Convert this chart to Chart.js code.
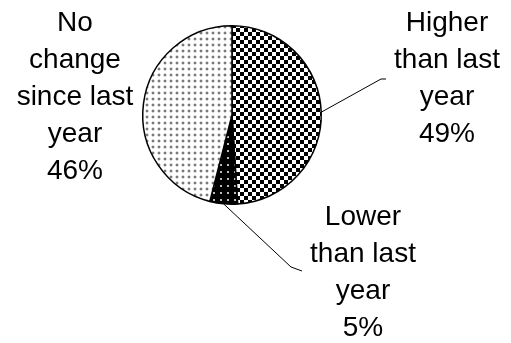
<!DOCTYPE html>
<html>
<head>
<meta charset="utf-8">
<script src="https://cdn.jsdelivr.net/npm/chart.js@4/dist/chart.umd.min.js"></script>
<style>
  html, body { margin: 0; padding: 0; background: #ffffff; }
  #wrap { width: 511px; height: 343px; }
</style>
</head>
<body>
<div id="wrap"><canvas id="c" width="511" height="343"></canvas></div>
<script>
// Survey answers, clockwise from 12 o'clock
const categories = ['Higher than last year', 'Lower than last year', 'No change since last year'];
const shares = [49, 5, 46];
const labelLines = [
  ['Higher', 'than last', 'year'],
  ['Lower', 'than last', 'year'],
  ['No', 'change', 'since last', 'year']
];

// Label block placement (text centre x, first baseline y) and leader-line end points
const labelLayout = [
  { x: 447, y: 31, leader: [[381, 79], [386, 79]] },
  { x: 363, y: 225, leader: [[291, 267], [302, 271]] },
  { x: 75, y: 31, leader: null }
];

function makeTile(size, draw) {
  const t = document.createElement('canvas');
  t.width = size; t.height = size;
  const g = t.getContext('2d');
  draw(g);
  return g.createPattern(t, 'repeat');
}

const ctx = document.getElementById('c').getContext('2d');

// Checkerboard fill
const checker = makeTile(8, g => {
  g.fillStyle = '#ffffff'; g.fillRect(0, 0, 8, 8);
  g.fillStyle = '#000000'; g.fillRect(0, 0, 4, 4); g.fillRect(4, 4, 4, 4);
});
// Light dots on black
const darkDots = makeTile(7, g => {
  g.fillStyle = '#000000'; g.fillRect(0, 0, 7, 7);
  g.fillStyle = '#bbbbbb'; g.fillRect(3, 3, 2, 2);
});
// Grey dots on white
const lightDots = makeTile(6, g => {
  g.fillStyle = '#ffffff'; g.fillRect(0, 0, 6, 6);
  g.fillStyle = '#7a7a7a'; g.fillRect(2, 2, 2, 2);
  g.fillStyle = '#d8d8d8'; g.fillRect(1, 2, 1, 2); g.fillRect(4, 2, 1, 2);
  g.fillRect(2, 1, 2, 1); g.fillRect(2, 4, 2, 1);
});

const FONT = '28px "Liberation Sans", Arial, sans-serif';
const LINE_H = 37;

const calloutPlugin = {
  id: 'callouts',
  afterDatasetsDraw(chart) {
    const c = chart.ctx;
    const arcs = chart.getDatasetMeta(0).data;
    c.save();
    arcs.forEach((arc, i) => {
      const lay = labelLayout[i];
      const mid = (arc.startAngle + arc.endAngle) / 2;
      if (lay.leader) {
        c.strokeStyle = '#000000';
        c.lineWidth = 1;
        c.beginPath();
        c.moveTo(arc.x + Math.cos(mid) * arc.outerRadius, arc.y + Math.sin(mid) * arc.outerRadius);
        lay.leader.forEach(p => c.lineTo(p[0], p[1]));
        c.stroke();
      }
      const lines = labelLines[i].concat([shares[i] + '%']);
      c.fillStyle = '#000000';
      c.font = FONT;
      c.textAlign = 'center';
      c.textBaseline = 'alphabetic';
      lines.forEach((t, k) => c.fillText(t, lay.x, lay.y + k * LINE_H));
    });
    c.restore();
  }
};

new Chart(ctx, {
  type: 'pie',
  data: {
    labels: categories,
    datasets: [{
      data: shares,
      backgroundColor: [checker, darkDots, lightDots],
      borderColor: '#000000',
      borderWidth: 1.5,
      borderAlign: 'center'
    }]
  },
  options: {
    responsive: false,
    devicePixelRatio: 1,
    animation: false,
    layout: { padding: { left: 142, right: 189, top: 25, bottom: 138 } },
    plugins: {
      legend: { display: false },
      tooltip: { enabled: false }
    }
  },
  plugins: [calloutPlugin]
});
</script>
</body>
</html>
